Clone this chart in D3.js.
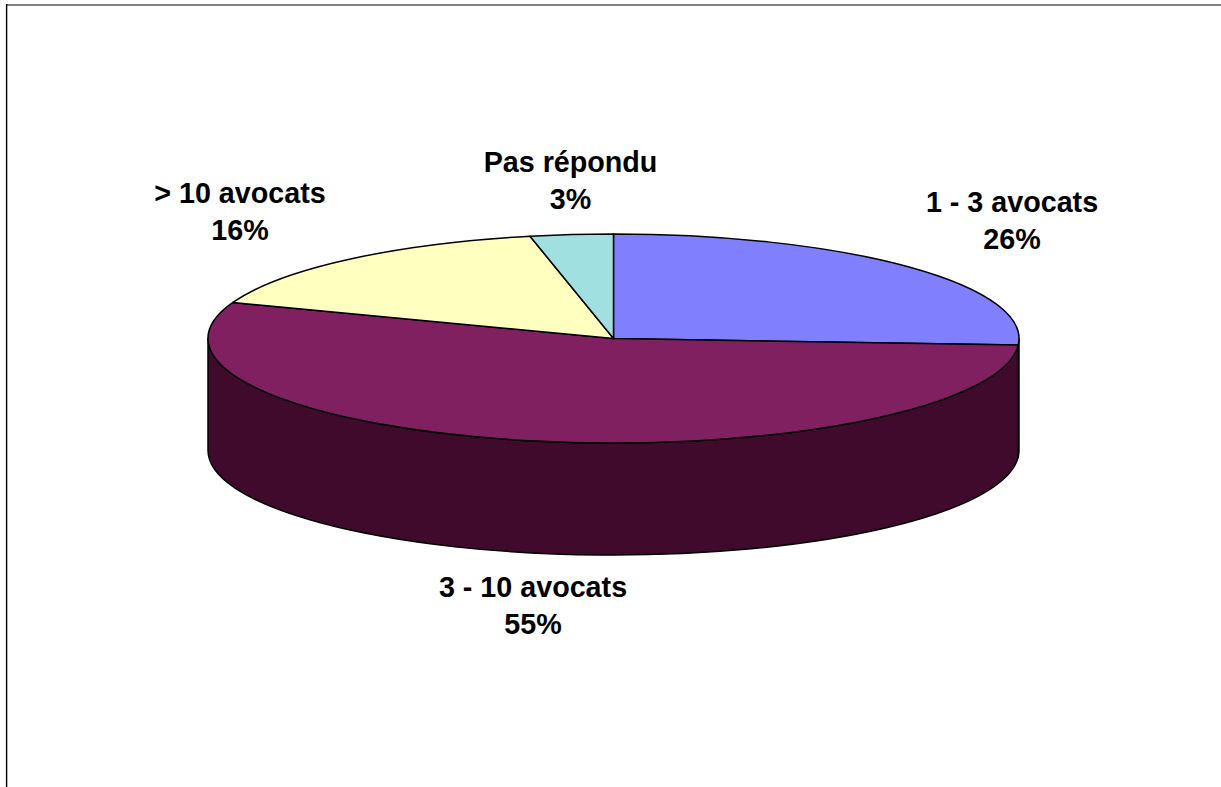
<!DOCTYPE html>
<html><head><meta charset="utf-8">
<script src="https://cdn.jsdelivr.net/npm/d3@7"></script>
<style>html,body{margin:0;padding:0;background:#fff;overflow:hidden}svg{display:block}
text{font-family:"Liberation Sans",Arial,sans-serif;font-weight:bold;font-size:28.7px;fill:#000;text-anchor:middle}</style>
</head><body><svg id="c" width="1221" height="787"></svg>
<script>
const categories=["1 - 3 avocats","3 - 10 avocats","> 10 avocats","Pas répondu"];
const sliceValues=[26,54.6,16.1,3.3];
const shownPercents=[26,55,16,3];
const topColors=["#8080ff","#802060","#ffffc0","#a0e0e0"];
const sideColors=["#404080","#400a2c","#808060","#507070"];
const labelAnchors=[[1012,212],[533,597],[240,203],[570.5,172]];

(function(){
const W=1221,H=787,cx=613.5,cy=338.5,rx=405.5,ry=104.5,depth=112;
const svg=d3.select("#c");
const pie=d3.pie().sort(null).value(d=>d)(sliceValues);
const px=a=>cx+rx*Math.sin(a), py=a=>cy-ry*Math.cos(a);

// frame
svg.append("line").attr("x1",6).attr("x2",W).attr("y1",5).attr("y2",5).attr("stroke","#808080").attr("stroke-width",2);
svg.append("line").attr("x1",6.6).attr("x2",6.6).attr("y1",4).attr("y2",H).attr("stroke","#000").attr("stroke-width",1.4);

// side walls (front half of the ellipse only)
const front=[Math.PI/2,3*Math.PI/2];
pie.forEach((s,i)=>{
  const a0=Math.max(s.startAngle,front[0]),a1=Math.min(s.endAngle,front[1]);
  if(a1<=a0)return;
  const large=(a1-a0)>Math.PI?1:0;
  const d=`M${px(a0)},${py(a0)}A${rx},${ry} 0 ${large} 1 ${px(a1)},${py(a1)}`+
          `L${px(a1)},${py(a1)+depth}A${rx},${ry} 0 ${large} 0 ${px(a0)},${py(a0)+depth}Z`;
  svg.append("path").attr("d",d).attr("fill",sideColors[i]).attr("stroke","#000").attr("stroke-width",1.5).attr("stroke-linejoin","round");
});

// top face
const arc=d3.arc().innerRadius(0).outerRadius(rx);
const face=svg.append("g").attr("transform",`translate(${cx},${cy}) scale(1,${ry/rx})`);
face.selectAll("path").data(pie).join("path")
  .attr("d",arc).attr("fill",(d,i)=>topColors[i])
  .attr("stroke","#000").attr("stroke-width",1.5).attr("stroke-linejoin","round")
  .attr("vector-effect","non-scaling-stroke");

// labels
categories.forEach((c,i)=>{
  const [x,y]=labelAnchors[i];
  const t=svg.append("text").attr("x",x).attr("y",y);
  t.append("tspan").attr("x",x).text(c);
  t.append("tspan").attr("x",x).attr("dy",37).text(shownPercents[i]+"%");
});
})();
</script></body></html>
